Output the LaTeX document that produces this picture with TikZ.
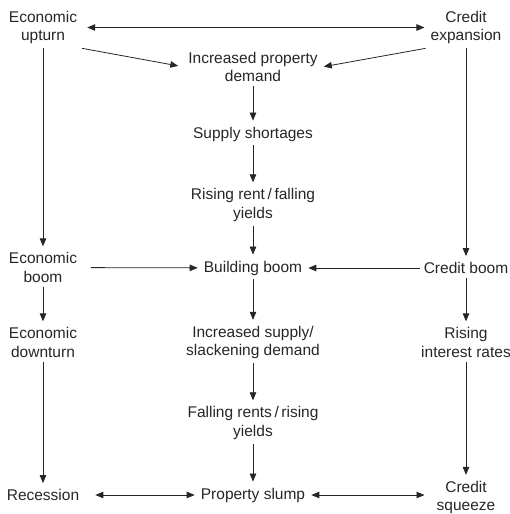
\documentclass[tikz,border=0pt]{standalone}
\usepackage{fontspec}
\setmainfont{Liberation Sans}
\usetikzlibrary{arrows.meta}
\definecolor{ink}{HTML}{262626}
\begin{document}
\begin{tikzpicture}[x=1pt,y=-1pt,
  lbl/.style={align=center,inner sep=4pt,text=ink,font=\fontsize{15.5}{18.5}\selectfont},
  arr/.style={draw=ink,line width=0.8pt,-{Triangle[length=8pt,width=6.5pt]},shorten >=2pt},
  darr/.style={draw=ink,line width=0.8pt,{Triangle[length=8pt,width=6.5pt]}-{Triangle[length=8pt,width=6.5pt]},shorten >=2pt,shorten <=2pt}]
\useasboundingbox (0,0) rectangle (510,514);
% left column
\node[lbl] (up)  at (43,27.5)  {Economic\\upturn};
\node[lbl] (eb)  at (43,267.5) {Economic\\boom};
\node[lbl] (ed)  at (43,342.5) {Economic\\downturn};
\node[lbl] (rec) at (43,495)   {Recession};
% centre column
\node[lbl] (ipd) at (253,67)   {Increased property\\demand};
\node[lbl] (ss)  at (253,134)  {Supply shortages};
\node[lbl] (rr)  at (253,205)  {Rising rent\,/\,falling\\yields};
\node[lbl] (bb)  at (253,268)  {Building boom};
\node[lbl] (isd) at (253,342.5){Increased supply/\\slackening demand};
\node[lbl] (fr)  at (253,423)  {Falling rents\,/\,rising\\yields};
\node[lbl] (ps)  at (253,495)  {Property slump};
% right column
\node[lbl] (ce)  at (466,27.5) {Credit\\expansion};
\node[lbl] (cb)  at (466,268)  {Credit boom};
\node[lbl] (ri)  at (466,342.5){Rising\\interest rates};
\node[lbl] (cs)  at (466,497.5){Credit\\squeeze};
% connectors
\draw[darr,shorten <=6pt] (up) -- (ce);
\draw[arr,shorten <=1pt,shorten >=6pt] (up.south east) -- (ipd.west);
\draw[arr,shorten <=1pt,shorten >=2pt] (ce.south west) -- (ipd.east);
\draw[arr] (ipd) -- (ss);
\draw[arr] (ss) -- (rr);
\draw[arr] (rr) -- (bb);
\draw[arr] (bb) -- (isd);
\draw[arr] (isd) -- (fr);
\draw[arr] (fr) -- (ps);
\draw[arr] (up) -- (eb);
\draw[arr] (eb) -- (ed);
\draw[arr] (ed) -- (rec);
\draw[arr] (ce) -- (cb);
\draw[arr] (cb) -- (ri);
\draw[arr] (ri) -- (cs);
\draw[arr,shorten <=10pt] (eb) -- (bb);
\draw[arr] (cb) -- (bb);
\draw[darr,shorten <=12pt] (rec) -- (ps);
\draw[darr,shorten >=8pt] (ps) -- (cs.west |- ps);
\end{tikzpicture}
\end{document}
